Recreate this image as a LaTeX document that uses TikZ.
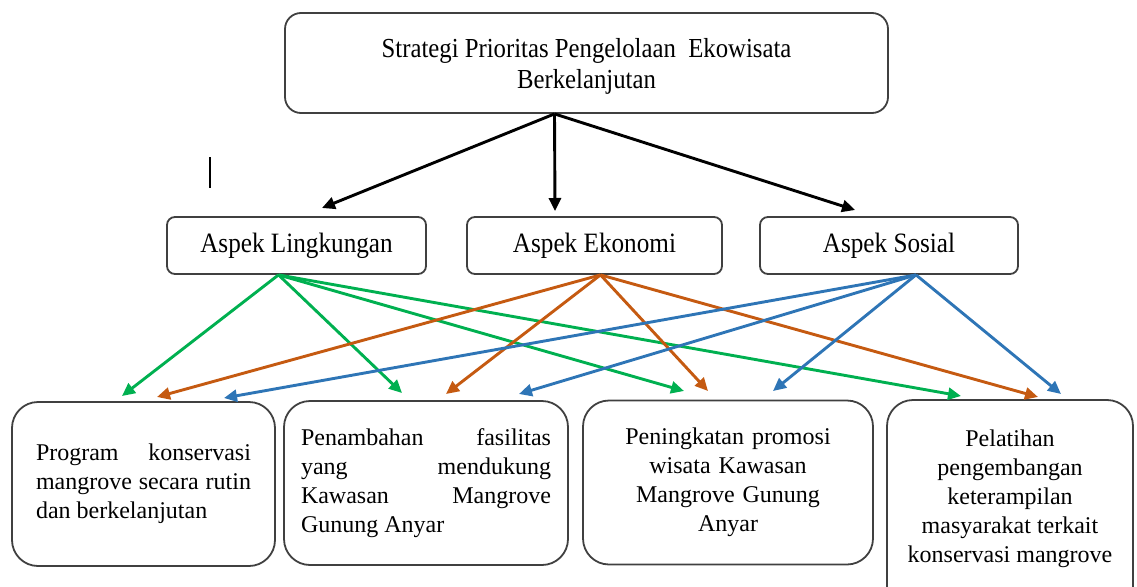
\documentclass[tikz,border=0pt]{standalone}
\usepackage{fontspec}
\setmainfont{Liberation Serif}
\newfontfamily\judul{Liberation Serif}[FakeStretch=0.9]
\usepackage{tikz}
\usetikzlibrary{calc,arrows.meta}

\definecolor{hijau}{HTML}{00B050}
\definecolor{oranye}{HTML}{C55A11}
\definecolor{biru}{HTML}{2E75B6}

\tikzset{
  kotak/.style={draw=black!75, line width=1.8pt, inner sep=0pt},
  induk/.style={kotak, rounded corners=16pt, minimum width=603pt, minimum height=100pt,
    align=center, font=\judul\fontsize{27.5}{31}\selectfont},
  aspek/.style={kotak, rounded corners=8pt, minimum height=57pt,
    font=\judul\fontsize{28}{31}\selectfont},
  strategi/.style={kotak, rounded corners=26pt, minimum height=164pt,
    font=\fontsize{24}{29}\selectfont},
  panah/.style={line width=2.9pt, -{Triangle[length=13pt,width=12pt]}},
}

\begin{document}
\begin{tikzpicture}[x=1pt, y=-1pt]
  \useasboundingbox (0,0) rectangle (1137,586);

  % judul
  \node[induk] (atas) at (586.5,63) {\rule{0pt}{25pt}Strategi Prioritas Pengelolaan\ \ Ekowisata\\Berkelanjutan};
  \draw[line width=1.3pt] (210,157) -- (210,188);

  % tiga aspek
  \node[aspek, minimum width=259pt] (ling) at (296.5,245.5) {Aspek Lingkungan};
  \node[aspek, minimum width=255pt] (eko) at (594.5,245.5) {Aspek Ekonomi};
  \node[aspek, minimum width=258pt] (sos) at (889,245.5) {Aspek Sosial};

  % strategi
  \node[strategi, minimum width=263pt, text width=215pt, align=justify]
    (b1) at (143.5,484) {Program konservasi\linebreak mangrove secara rutin\linebreak dan berkelanjutan};
  \node[strategi, minimum width=284pt, text width=250pt, align=justify]
    (b2) at (426,483) {Penambahan fasilitas\linebreak yang mendukung\linebreak Kawasan Mangrove\linebreak Gunung Anyar};
  \node[strategi, minimum width=290pt, text width=250pt, align=center]
    (b3) at (728,482.5) {Peningkatan promosi\\wisata Kawasan\\Mangrove Gunung\\Anyar};
  \node[strategi, minimum width=246pt, minimum height=212pt, text width=240pt, align=center]
    (b4) at (1010,506) {};
  \node[font=\fontsize{24}{29}\selectfont, align=center] (b4t) at (1010,499)
    {Pelatihan\\pengembangan\\keterampilan\\masyarakat terkait\\konservasi mangrove};

  % pangkal panah
  \coordinate (atasO) at ($(atas.south)+(-32,0)$);
  \coordinate (lingO) at ($(ling.south)+(-18,0)$);
  \coordinate (ekoO) at ($(eko.south)+(6,0)$);
  \coordinate (sosO) at ($(sos.south)+(27,0)$);

  % ujung panah
  \coordinate (lingT) at (322,208);
  \coordinate (ekoT) at (555,211);
  \coordinate (sosT) at (855,210);
  \coordinate (b1h) at (122,396);
  \coordinate (b1o) at (157,397);
  \coordinate (b1b) at (224,398);
  \coordinate (b2h) at (402,393);
  \coordinate (b2o) at (446,394);
  \coordinate (b2b) at (519,394);
  \coordinate (b3h) at (684,391);
  \coordinate (b3o) at (708,391);
  \coordinate (b3b) at (773,391);
  \coordinate (b4h) at (961,396);
  \coordinate (b4o) at (1038,397);
  \coordinate (b4b) at (1061,394);

  \draw[panah] (atasO) -- (lingT);
  \draw[panah] (atasO) -- (ekoT);
  \draw[panah] (atasO) -- (sosT);

  \draw[panah, hijau] (lingO) -- (b1h);
  \draw[panah, hijau] (lingO) -- (b2h);
  \draw[panah, hijau] (lingO) -- (b3h);
  \draw[panah, hijau] (lingO) -- (b4h);

  \draw[panah, oranye] (ekoO) -- (b1o);
  \draw[panah, oranye] (ekoO) -- (b2o);
  \draw[panah, oranye] (ekoO) -- (b3o);
  \draw[panah, oranye] (ekoO) -- (b4o);

  \draw[panah, biru] (sosO) -- (b1b);
  \draw[panah, biru] (sosO) -- (b2b);
  \draw[panah, biru] (sosO) -- (b3b);
  \draw[panah, biru] (sosO) -- (b4b);
\end{tikzpicture}
\end{document}
